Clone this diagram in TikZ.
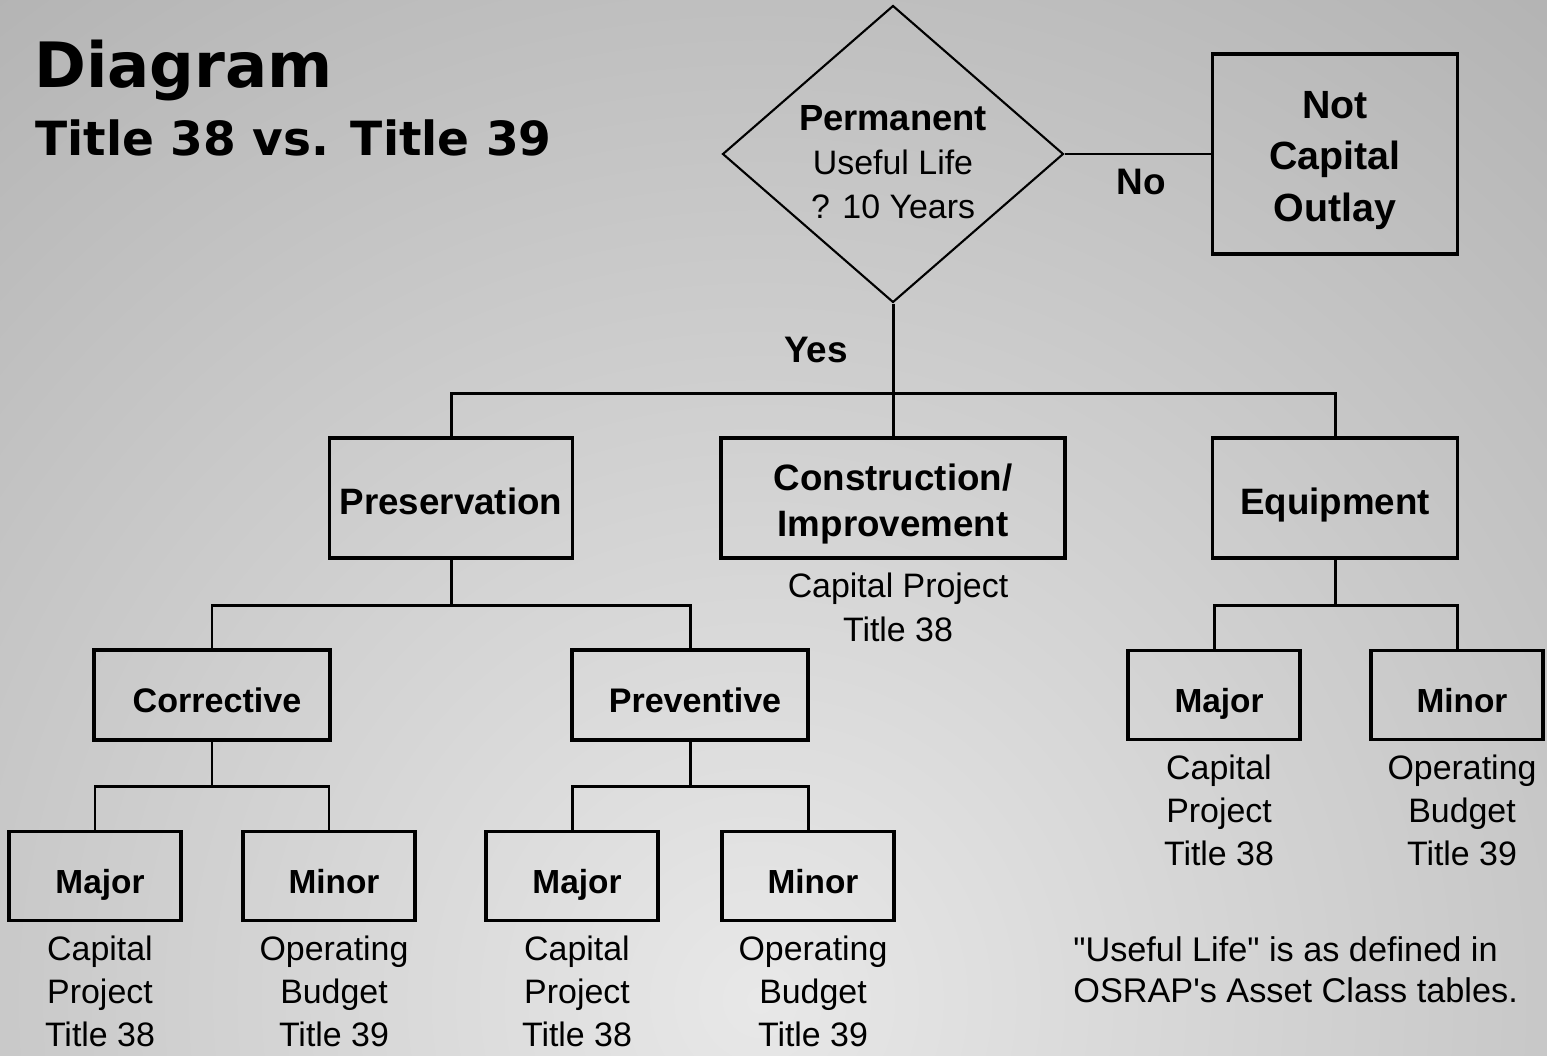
\documentclass[tikz,border=0pt]{standalone}
\usepackage{fontspec}
\setmainfont{Liberation Sans}[Ligatures=TeXOff]
\newfontfamily\headfont{DejaVu Sans}
\usetikzlibrary{positioning,shapes.geometric}
\definecolor{bglight}{gray}{0.91}
\definecolor{bgdark}{gray}{0.70}
\tikzset{
link/.style={draw, line width=1.7pt},
decision/.style={diamond, aspect=1.15, draw=black, line width=1.2pt, minimum width=6.82cm, minimum height=5.94cm, inner sep=0pt, align=center, font=\fontsize{19.3}{25}\selectfont},
bigbox/.style={rectangle, draw=black, line width=2pt, minimum height=2.4cm, inner sep=0pt, align=center, font=\fontsize{20.9}{26}\selectfont\bfseries},
midbox/.style={rectangle, draw=black, line width=2pt, minimum width=4.72cm, minimum height=1.8cm, inner sep=0pt, text height=19.5pt, text depth=0pt, font=\fontsize{19.4}{24}\selectfont\bfseries, execute at begin node={\hspace*{0.2cm}}},
smallbox/.style={rectangle, draw=black, line width=2pt, minimum width=3.44cm, minimum height=1.78cm, inner sep=0pt, text height=19.8pt, text depth=0pt, font=\fontsize{19}{24}\selectfont\bfseries, execute at begin node={\hspace*{0.2cm}}},
capt/.style={inner sep=0pt, align=center, xshift=0.1cm, font=\fontsize{19.3}{24.6}\selectfont},
answer/.style={inner sep=0pt, font=\fontsize{21}{26}\selectfont\bfseries},
}

\begin{document}
\begin{tikzpicture}[x=0.02cm, y=-0.02cm]
\useasboundingbox (0,0) rectangle (1547,1055);
% background
\begin{scope}
\clip (0,0) rectangle (1547,1055);
\fill[bgdark] (0,0) rectangle (1547,1055);
\shade[inner color=bglight, outer color=bgdark] (760,1000) circle (26cm);
\end{scope}

% heading
\node[inner sep=0pt, anchor=base west, font=\headfont\fontsize{35.6}{40}\selectfont\bfseries] (head) at (34,87) {Diagram};
\node[inner sep=0pt, anchor=base west, font=\headfont\fontsize{26.8}{30}\selectfont\bfseries] (subhead) at (35,155) {Title 38 vs. Title 39};

% decision
\node[decision] (perm) at (893,154) {\rule{0pt}{23.8pt}{\fontsize{20.7}{25}\selectfont\bfseries Permanent}\\Useful Life\\? 10 Years};
\node[bigbox, minimum width=4.9cm, minimum height=4cm, font=\fontsize{22.4}{29.5}\selectfont\bfseries] (notcap) at (1335,154) {\rule{0pt}{1.02em}Not\\Capital\\Outlay};
\node[answer] (no) at (1141,182) {No};
\node[answer] (yes) at (816,350) {Yes};

% first level
\node[bigbox, text height=18.4pt, text depth=0pt, minimum width=4.86cm] (pres) at (451,498) {Preservation};
\node[bigbox, minimum width=6.88cm] (cons) at (893,498) {\rule{0pt}{1.05em}Construction/\\Improvement};
\node[bigbox, text height=18.4pt, text depth=0pt, minimum width=4.9cm] (equip) at (1335,498) {Equipment};
\node[capt, below=7.5pt of cons] (consc) {Capital Project\\Title 38};

% second level
\node[midbox] (corr) at (212,695) {Corrective};
\node[midbox] (prev) at (690,695) {Preventive};
\node[smallbox] (maj3) at (1214,695) {Major};
\node[smallbox] (min3) at (1457,695) {Minor};
\node[capt, below=7.5pt of maj3] (maj3c) {Capital\\Project\\Title 38};
\node[capt, below=7.5pt of min3] (min3c) {Operating\\Budget\\Title 39};

% third level
\node[smallbox] (maj1) at (95,876) {Major};
\node[smallbox] (min1) at (329,876) {Minor};
\node[smallbox] (maj2) at (572,876) {Major};
\node[smallbox] (min2) at (808,876) {Minor};
\node[capt, below=7.5pt of maj1] (maj1c) {Capital\\Project\\Title 38};
\node[capt, below=7.5pt of min1] (min1c) {Operating\\Budget\\Title 39};
\node[capt, below=7.5pt of maj2] (maj2c) {Capital\\Project\\Title 38};
\node[capt, below=7.5pt of min2] (min2c) {Operating\\Budget\\Title 39};

\node[inner sep=0pt, anchor=north west, align=left, font=\fontsize{19.5}{23.3}\selectfont] (note) at (1073,936) {"Useful Life" is as defined in\\OSRAP's Asset Class tables.};

% connectors
\coordinate (j0) at (893,393);
\coordinate (j1) at (451,605);
\coordinate (j2) at (212,786);
\coordinate (j3) at (690,786);
\coordinate (j4) at (1335,605);
\draw[link] (perm.east) -- (notcap.west);
\draw[link] (perm.south) -- (cons.north);
\draw[link] (pres.north) |- (j0) -| (equip.north);
\draw[link] (pres.south) -- (j1);
\draw[link] (corr.north) |- (j1) -| (prev.north);
\draw[link] (corr.south) -- (j2);
\draw[link] (maj1.north) |- (j2) -| (min1.north);
\draw[link] (prev.south) -- (j3);
\draw[link] (maj2.north) |- (j3) -| (min2.north);
\draw[link] (equip.south) -- (j4);
\draw[link] (maj3.north) |- (j4) -| (min3.north);
\end{tikzpicture}
\end{document}
